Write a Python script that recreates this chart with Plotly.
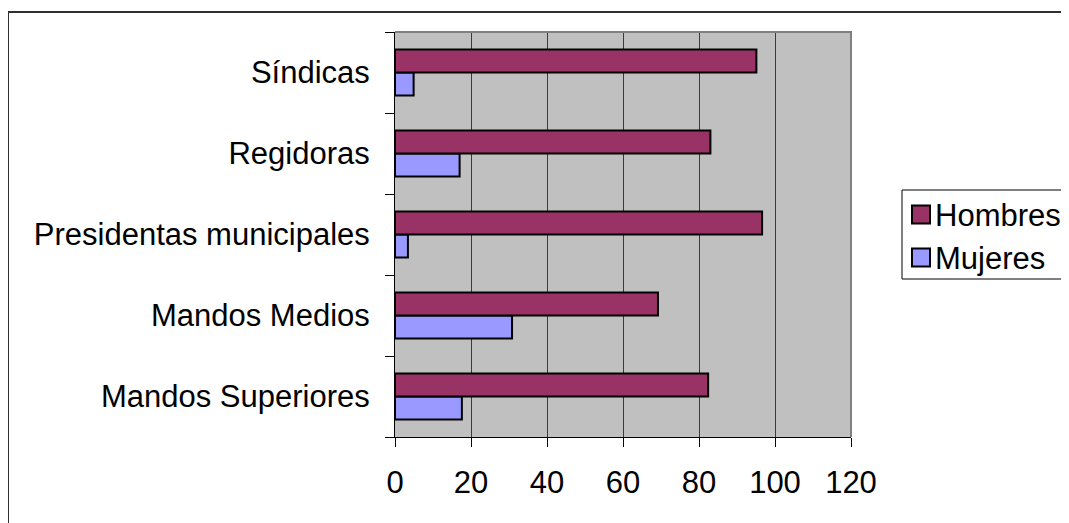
import plotly.graph_objects as go

categories = ["Mandos Superiores", "Mandos Medios", "Presidentas municipales", "Regidoras", "Síndicas"]
hombres = [82.4, 69.2, 96.6, 83.0, 95.1]
mujeres = [17.6, 30.8, 3.4, 17.0, 4.9]
x_ticks = [0, 20, 40, 60, 80, 100, 120]
series_names = ["Hombres", "Mujeres"]
series_colors = {"Hombres": "#993366", "Mujeres": "#9999FF"}

OFF = 8  # page body margin
W, H = 1069 - OFF, 523 - OFF
L, R, T, B = 395 - OFF, 851 - OFF, 32 - OFF, 437 - OFF

def px_x(v):
    return (v - OFF - L) / (R - L)

def px_y(v):
    return (B - (v - OFF)) / (B - T)

fig = go.Figure()
fig.add_trace(go.Bar(
    y=categories, x=mujeres, name="Mujeres", orientation="h",
    marker=dict(color=series_colors["Mujeres"], line=dict(color="#000000", width=2)),
))
fig.add_trace(go.Bar(
    y=categories, x=hombres, name="Hombres", orientation="h",
    marker=dict(color=series_colors["Hombres"], line=dict(color="#000000", width=2)),
))

font = "Liberation Sans, Arial, sans-serif"
FS = 31

shapes = [
    dict(type="path", xref="paper", yref="paper",
         path="M 0 1 L 1 1 L 1 0",
         line=dict(color="#808080", width=2), layer="above"),
    dict(type="rect", xref="paper", yref="paper",
         x0=px_x(8), x1=px_x(1100), y0=px_y(560), y1=px_y(12),
         line=dict(color="#303030", width=2), fillcolor="rgba(0,0,0,0)", layer="below"),
    # legend box
    dict(type="rect", xref="paper", yref="paper",
         x0=px_x(902), x1=px_x(1100), y0=px_y(279), y1=px_y(190),
         line=dict(color="#000000", width=1), fillcolor="white", layer="above"),
]
annotations = []
legend_rows = [214.5, 257.5]
for name, yc in zip(series_names, legend_rows):
    shapes.append(dict(type="rect", xref="paper", yref="paper",
                       x0=px_x(912), x1=px_x(930), y0=px_y(yc + 9), y1=px_y(yc - 9),
                       line=dict(color="#000000", width=2),
                       fillcolor=series_colors[name], layer="above"))
    annotations.append(dict(xref="paper", yref="paper", x=px_x(933), y=px_y(yc + 1.5),
                            xanchor="left", yanchor="middle", showarrow=False,
                            text=name, font=dict(family=font, size=FS, color="black")))

fig.update_layout(
    width=W, height=H, autosize=False,
    margin=dict(l=L, r=W - R, t=T, b=H - B, pad=0, autoexpand=False),
    paper_bgcolor="white", plot_bgcolor="#C0C0C0",
    barmode="group", bargap=0.43, bargroupgap=0,
    font=dict(family=font, size=FS, color="black"),
    showlegend=False,
    xaxis=dict(
        range=[0, 120], tickvals=x_ticks, ticktext=[str(v) for v in x_ticks],
        showgrid=True, gridcolor="#3a3a3a", gridwidth=1,
        showline=True, linecolor="black", linewidth=1,
        ticks="outside", ticklen=9, tickcolor="black",
        ticklabelstandoff=9, zeroline=False,
        tickfont=dict(family=font, size=FS),
    ),
    yaxis=dict(
        type="category", categoryorder="array", categoryarray=categories,
        showgrid=False, showline=True, linecolor="black", linewidth=1,
        ticks="outside", ticklen=9, tickcolor="black", tickson="boundaries",
        ticklabelstandoff=18,
        tickfont=dict(family=font, size=FS),
    ),
    shapes=shapes,
    annotations=annotations,
)

fig.write_html("out.html")
